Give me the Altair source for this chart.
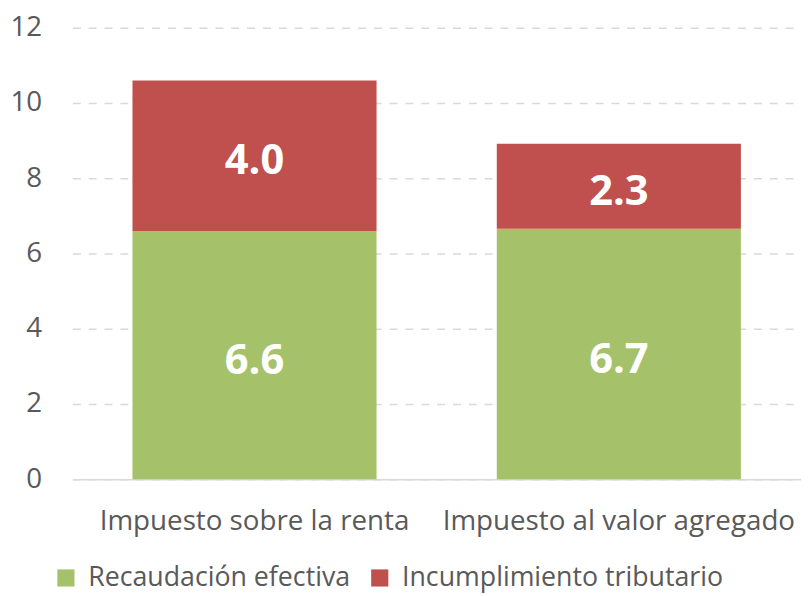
import altair as alt
import pandas as pd

categories = ["Impuesto sobre la renta", "Impuesto al valor agregado"]
recaudacion = [6.6, 6.66]
incumplimiento = [4.0, 2.26]
series = ["Recaudación efectiva", "Incumplimiento tributario"]
colors = ["#A5C26B", "#C0504D"]

rows = []
for i, c in enumerate(categories):
    rows.append({"cat": c, "serie": series[0], "val": recaudacion[i], "ord": 0})
    rows.append({"cat": c, "serie": series[1], "val": incumplimiento[i], "ord": 1})
df = pd.DataFrame(rows)

FONT = "Open Sans"
GRAY = "#595959"

base = alt.Chart(df).transform_stack(
    stack="val", groupby=["cat"], as_=["y0", "y1"], sort=[alt.SortField("ord", order="ascending")]
).transform_calculate(mid="(datum.y0 + datum.y1) / 2")

xenc = alt.X("cat:N", sort=categories, title=None,
             scale=alt.Scale(paddingInner=0.33, paddingOuter=0.165),
             axis=alt.Axis(labelAngle=0, ticks=False, domainColor="#D9D9D9", domainWidth=1.5,
                           labelPadding=29, grid=False, labelLimit=0))

bars = base.mark_bar().encode(
    x=xenc,
    y=alt.Y("y0:Q", title=None,
            scale=alt.Scale(domain=[0, 12], nice=False),
            axis=alt.Axis(values=[0, 2, 4, 6, 8, 10, 12], ticks=False, domain=False,
                          gridColor="#D9D9D9", gridDash=[8, 8], gridWidth=1.5, labelPadding=31)),
    y2="y1:Q",
    color=alt.Color("serie:N", sort=series,
                    scale=alt.Scale(domain=series, range=colors),
                    legend=alt.Legend(title=None, orient="none", direction="horizontal",
                                      legendX=-20, legendY=542, symbolType="square",
                                      symbolSize=300, symbolStrokeWidth=0, labelFontSize=27,
                                      labelColor=GRAY, labelFont=FONT, columnPadding=16,
                                      symbolOffset=0, labelOffset=9, labelLimit=0)),
)

labels = base.mark_text(color="white", fontSize=42, fontWeight="bold", font=FONT, dy=6).encode(
    x=alt.X("cat:N", sort=categories, title=None),
    y=alt.Y("mid:Q", title=None),
    text=alt.Text("val:Q", format=".1f"),
)

chart = alt.layer(bars, labels).properties(
    width=736, height=456,
    autosize=alt.AutoSizeParams(type="none"),
    padding={"left": 65, "top": 17, "right": 0, "bottom": 115},
).configure_view(stroke=None).configure_axis(
    labelFont=FONT, labelColor=GRAY, labelFontSize=28
).configure_axisX(labelFontSize=28)

chart.save("out.html", embed_options={"renderer": "svg", "actions": False})
